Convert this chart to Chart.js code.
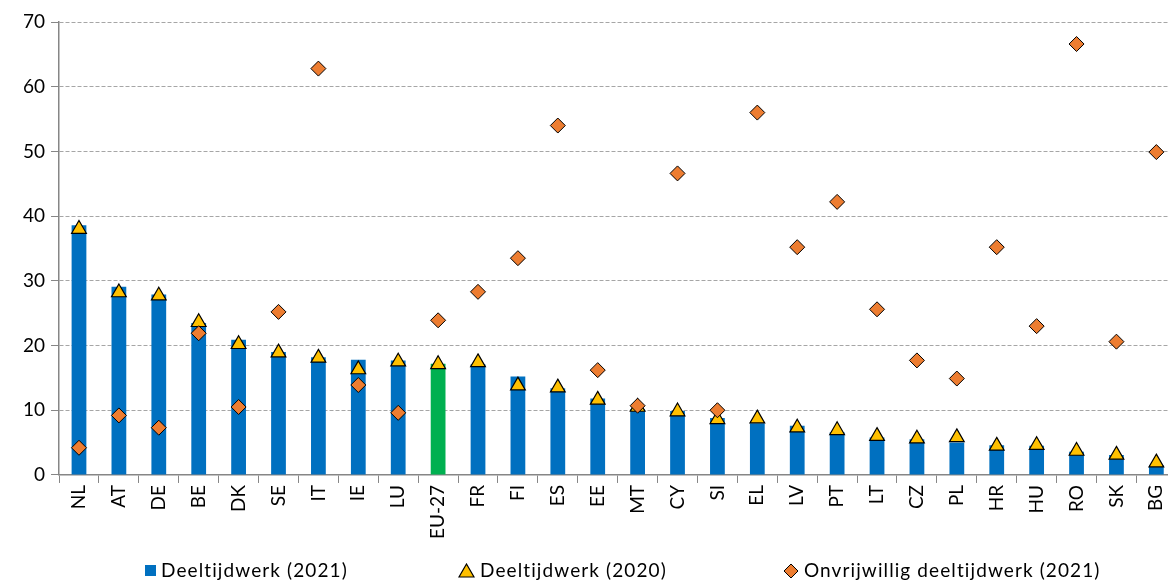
<!DOCTYPE html>
<html>
<head>
<meta charset="utf-8">
<script src="https://cdn.jsdelivr.net/npm/chart.js@4.4.0/dist/chart.umd.min.js"></script>
<style>
  html, body { margin: 0; padding: 0; background: #fff; overflow: hidden; }
  #wrap { position: absolute; left: 0; top: 0; width: 1186px; height: 583px; }
  #legend { position: absolute; top: 558px; left: 0; width: 1168px; height: 24px;
            font-family: Lato, 'Open Sans', sans-serif; font-size: 19px; letter-spacing: 1.1px; color: #000; }
  .lg { position: absolute; top: 0; white-space: nowrap; line-height: 24px; }
  .sw { display: inline-block; vertical-align: middle; margin-right: 5px; }
</style>
</head>
<body>
<div id="wrap"><canvas id="c"></canvas></div>
<div id="legend">
  <div class="lg" style="left:145px"><span class="sw" style="width:11px;height:11px;background:#0070C0;margin-top:-3px"></span>Deeltijdwerk (2021)</div>
  <div class="lg" style="left:458px"><svg class="sw" width="17" height="15" style="margin-top:-3px"><polygon points="8.5,1 16,14 1,14" fill="#FFC000" stroke="#000" stroke-width="1.2"/></svg>Deeltijdwerk (2020)</div>
  <div class="lg" style="left:783px"><svg class="sw" width="16" height="16" style="margin-top:-3px"><polygon points="8,1 15,8 8,15 1,8" fill="#ED7D31" stroke="#000" stroke-width="1"/></svg>Onvrijwillig deeltijdwerk (2021)</div>
</div>
<script>
// ─── Data ───────────────────────────────────────────────────
const countries = ['NL', 'AT', 'DE', 'BE', 'DK', 'SE', 'IT', 'IE', 'LU', 'EU-27', 'FR', 'FI', 'ES', 'EE',
    'MT', 'CY', 'SI', 'EL', 'LV', 'PT', 'LT', 'CZ', 'PL', 'HR', 'HU', 'RO', 'SK', 'BG'];

const partTime2021 = [38.6, 29.1, 27.9, 23.5, 20.9, 19.0, 18.2, 17.8, 17.7, 17.2, 17.1, 15.2, 13.4, 11.8,
    10.2, 9.9, 8.8, 8.0, 7.6, 6.6, 5.8, 5.5, 5.0, 4.6, 4.5, 3.6, 3.1, 1.5];

const partTime2020 = [38.0, 28.2, 27.7, 23.6, 20.2, 18.9, 18.1, 16.3, 17.5, 17.1, 17.4, 13.8, 13.5, 11.6,
    10.5, 9.8, 8.6, 8.7, 7.3, 6.9, 6.0, 5.6, 5.8, 4.5, 4.6, 3.7, 3.1, 1.9];

const involuntary2021 = [4.2, 9.2, 7.3, 21.9, 10.5, 25.2, 62.8, 13.9, 9.6, 23.9, 28.3, 33.5, 54.0, 16.2,
    10.7, 46.6, 10.0, 56.0, 35.2, 42.2, 25.6, 17.7, 14.9, 35.2, 23.0, 66.6, 20.6, 49.9];

const yTicks = { min: 0, max: 70, step: 10 };

const BLUE = '#0070C0';
const GREEN = '#00B050';
const GRID = '#A6A6A6';
const AXIS = '#868686';

Chart.defaults.font.family = "Lato, 'Open Sans', sans-serif";
Chart.defaults.font.size = 19;
Chart.defaults.color = '#000';

const barColors = countries.map(c => c === 'EU-27' ? GREEN : BLUE);

new Chart(document.getElementById('c'), {
    data: {
        labels: countries,
        datasets: [
            {
                type: 'line', label: 'Onvrijwillig deeltijdwerk (2021)', data: involuntary2021,
                showLine: false, pointStyle: 'rectRot', pointRadius: 7.5, pointHoverRadius: 7.5,
                pointBackgroundColor: '#ED7D31', pointBorderColor: '#000', pointBorderWidth: 1, order: 1
            },
            {
                type: 'line', label: 'Deeltijdwerk (2020)', data: partTime2020,
                showLine: false, pointStyle: 'triangle', pointRadius: 8.5, pointHoverRadius: 8.5,
                pointBackgroundColor: '#FFC000', pointBorderColor: '#000', pointBorderWidth: 1.2, order: 2
            },
            {
                type: 'bar', label: 'Deeltijdwerk (2021)', data: partTime2021,
                backgroundColor: barColors, categoryPercentage: 1, barPercentage: 0.37, order: 3
            }
        ]
    },
    options: {
        responsive: true, maintainAspectRatio: false, animation: false,
        layout: { padding: { top: 22, right: 0, bottom: 42, left: 17 } },
        plugins: { legend: { display: false }, tooltip: { enabled: false } },
        scales: {
            x: {
                offset: true,
                grid: { offset: true, drawOnChartArea: false, drawTicks: true, tickLength: 8, color: AXIS },
                border: { color: AXIS, width: 1.5 },
                ticks: { maxRotation: 90, minRotation: 90, padding: 2, autoSkip: false }
            },
            y: {
                min: yTicks.min, max: yTicks.max,
                ticks: { stepSize: yTicks.step, padding: 6 },
                grid: { color: GRID, tickLength: 8, tickColor: AXIS },
                border: { color: AXIS, width: 1.5, dash: [4, 2] }
            }
        }
    }
});
</script>
</body>
</html>
